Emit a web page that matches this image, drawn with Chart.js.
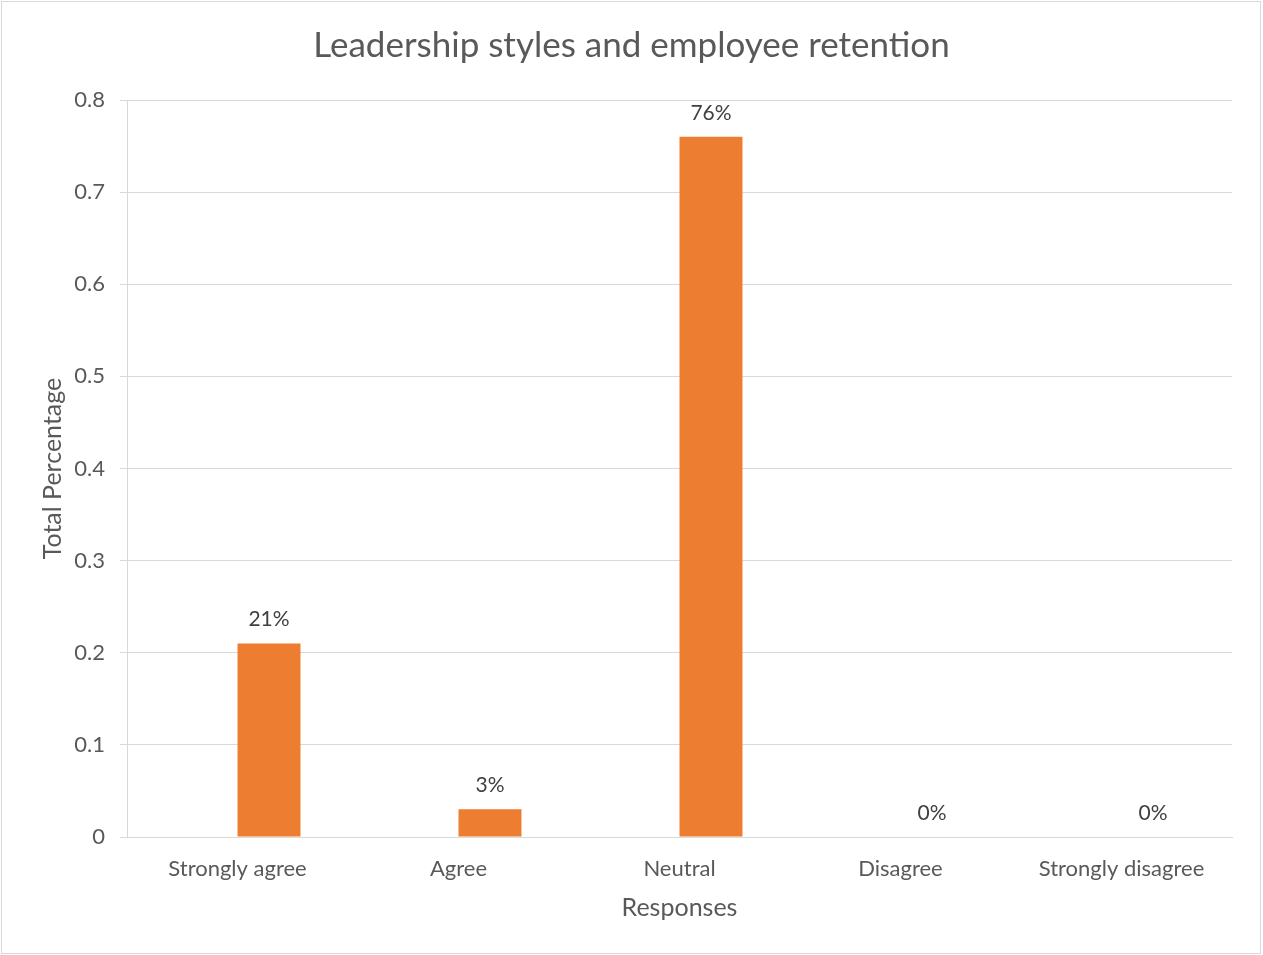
<!DOCTYPE html>
<html>
<head>
<meta charset="utf-8">
<script src="https://cdn.jsdelivr.net/npm/chart.js@4/dist/chart.umd.min.js"></script>
<style>
  html, body { margin: 0; padding: 0; background: #fff; }
  #wrap { width: 1263px; height: 955px; position: relative; }
</style>
</head>
<body>
<div id="wrap"><canvas id="chart" width="1263" height="955"></canvas></div>
<script>
// --- data ---
const categories = ["Strongly agree", "Agree", "Neutral", "Disagree", "Strongly disagree"];
const emptySeries = [null, null, null, null, null]; // excel's blank first series
const totals = [0.21, 0.03, 0.76, 0, 0];
const yTicks = [0, 0.1, 0.2, 0.3, 0.4, 0.5, 0.6, 0.7, 0.8];

const FONT = "Lato, 'Open Sans', sans-serif";
const GRID = "#d9d9d9";
const TXT = "#595959";

// --- plugins ---
const frame = {
  id: "frame",
  beforeDraw(c) {
    const ctx = c.ctx;
    ctx.save();
    ctx.fillStyle = "#fff";
    ctx.fillRect(0, 0, c.width, c.height);
    ctx.strokeStyle = GRID;
    ctx.lineWidth = 1;
    ctx.strokeRect(1.5, 1.5, 1259, 952);
    ctx.restore();
  }
};

const barLabels = {
  id: "barLabels",
  afterDatasetsDraw(c) {
    const meta = c.getDatasetMeta(1);
    const ctx = c.ctx;
    ctx.save();
    ctx.font = "21px " + FONT;
    ctx.fillStyle = "#404040";
    ctx.textAlign = "center";
    ctx.textBaseline = "middle";
    meta.data.forEach((bar, i) => {
      const v = totals[i];
      ctx.fillText(Math.round(v * 100) + "%", bar.x, bar.y - 24);
    });
    ctx.restore();
  }
};

// --- chart ---
new Chart(document.getElementById("chart"), {
  type: "bar",
  data: {
    labels: categories,
    datasets: [
      { label: "", data: emptySeries, backgroundColor: "#5b9bd5" },
      { label: "Total", data: totals, backgroundColor: "#ed7d31" }
    ]
  },
  options: {
    responsive: false,
    animation: false,
    categoryPercentage: 0.57,
    barPercentage: 1,
    layout: { padding: 0 },
    plugins: {
      legend: { display: false },
      tooltip: { enabled: false },
      title: {
        display: true,
        text: "Leadership styles and employee retention",
        color: TXT,
        font: { family: FONT, size: 35, weight: "normal" },
        padding: { top: 25, bottom: 33 }
      }
    },
    scales: {
      x: {
        grid: { display: false, drawTicks: false, tickLength: 0 },
        border: { display: true, color: GRID },
        ticks: { color: TXT, font: { family: FONT, size: 22 }, padding: 19, maxRotation: 0 },
        title: {
          display: true, text: "Responses", color: TXT,
          font: { family: FONT, size: 25 }, padding: { top: 0, bottom: 32 }
        },
        afterFit(s) { s.height = 118; }
      },
      y: {
        min: 0, max: 0.8,
        afterBuildTicks(s) { s.ticks = yTicks.map(v => ({ value: v })); },
        grid: { color: GRID, tickLength: 7, tickColor: GRID },
        border: { display: true, color: GRID },
        ticks: { color: TXT, font: { family: FONT, size: 22 }, padding: 15 },
        title: {
          display: true, text: "Total Percentage", color: TXT,
          font: { family: FONT, size: 25 }, padding: { top: 38, bottom: 0 }
        },
        afterFit(s) { s.width = 127; }
      },
      // empty right-hand margin so the title stays centred on the whole canvas
      gap: {
        type: "linear", position: "right", display: true,
        grid: { display: false, drawTicks: false },
        border: { display: false },
        ticks: { display: false },
        afterFit(s) { s.width = 31; }
      }
    }
  },
  plugins: [frame, barLabels]
});
</script>
</body>
</html>
